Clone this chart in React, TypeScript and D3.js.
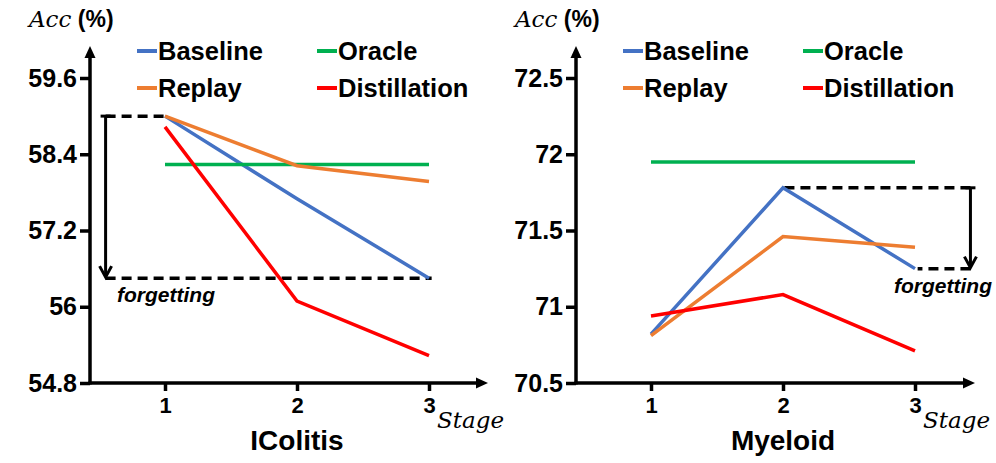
import { useRef, useEffect } from 'react';
import * as d3 from 'd3';

// stages on the x axis
const stages = [1, 2, 3];

// IColitis accuracies (%)
const colitisBaseline = [59.0, 57.7, 56.45];
const colitisOracle = [58.24, 58.24, 58.24];
const colitisReplay = [59.0, 58.22, 57.97];
const colitisDistill = [58.83, 56.09, 55.23];
const colitisTicks = [54.8, 56, 57.2, 58.4, 59.6];

// Myeloid accuracies (%)
const myeloidBaseline = [70.82, 71.78, 71.25];
const myeloidOracle = [71.95, 71.95, 71.95];
const myeloidReplay = [70.81, 71.46, 71.39];
const myeloidDistill = [70.94, 71.08, 70.71];
const myeloidTicks = [70.5, 71, 71.5, 72, 72.5];

const seriesNames = ['Baseline', 'Oracle', 'Replay', 'Distillation'];
const colors = { Baseline: '#4472C4', Oracle: '#00B050', Replay: '#ED7D31', Distillation: '#FF0000' };

const SANS = 'Liberation Sans, Arial, sans-serif';
const SERIF = 'DejaVu Serif, Liberation Serif, serif';

function drawPanel(g, opt) {
  const { x0, axisTop, axisRight, y0, yTicks, series, title, forget } = opt;
  const x = d3.scaleLinear().domain([1, 3]).range([x0 + 75, x0 + 339]);
  const y = d3.scaleLinear().domain([yTicks[0], yTicks[yTicks.length - 1]]).range([y0, 78]);

  // axes lines + arrows
  g.append('line').attr('x1', x0).attr('x2', x0).attr('y1', y0 + 1.5).attr('y2', axisTop + 8)
    .attr('stroke', '#000').attr('stroke-width', 3.5);
  g.append('path').attr('d', `M${x0},${axisTop} L${x0 - 5.5},${axisTop + 12} L${x0 + 5.5},${axisTop + 12} Z`).attr('fill', '#000');
  g.append('line').attr('x1', x0 - 1.5).attr('x2', axisRight - 8).attr('y1', y0).attr('y2', y0)
    .attr('stroke', '#000').attr('stroke-width', 3.5);
  g.append('path').attr('d', `M${axisRight},${y0} L${axisRight - 12},${y0 - 5.5} L${axisRight - 12},${y0 + 5.5} Z`).attr('fill', '#000');

  // y ticks
  const ya = g.append('g').attr('transform', `translate(${x0},0)`)
    .call(d3.axisLeft(y).tickValues(yTicks).tickSize(10).tickPadding(3).tickFormat(d => String(d)));
  ya.select('.domain').remove();
  ya.selectAll('line').attr('stroke', '#000').attr('stroke-width', 3.5);
  ya.selectAll('text').attr('font-family', SANS).attr('font-weight', 'bold').attr('font-size', 25).attr('fill', '#000');

  // x ticks
  const xa = g.append('g').attr('transform', `translate(0,${y0})`)
    .call(d3.axisBottom(x).tickValues(stages).tickSize(8).tickPadding(6).tickFormat(d3.format('d')));
  xa.select('.domain').remove();
  xa.selectAll('line').attr('stroke', '#000').attr('stroke-width', 3.5);
  xa.selectAll('text').attr('font-family', SANS).attr('font-weight', 'bold').attr('font-size', 22).attr('fill', '#000');

  // Acc (%) label
  const acc = g.append('text').attr('x', x0 - 61).attr('y', 27).attr('font-size', 23);
  acc.append('tspan').attr('font-family', SERIF).attr('font-style', 'italic').text('Acc');
  acc.append('tspan').attr('font-family', SANS).attr('font-weight', 'bold').text(' (%)');

  // Stage label
  g.append('text').attr('x', x(3) + 8).attr('y', 428).attr('font-family', SERIF).attr('font-style', 'italic')
    .attr('font-size', 23).text('Stage');

  // title
  g.append('text').attr('x', x(2)).attr('y', 450).attr('text-anchor', 'middle').attr('font-family', SANS)
    .attr('font-weight', 'bold').attr('font-size', 28).text(title);

  // forgetting annotation
  const fx = x(forget.at);
  const ytop = y(forget.top), ybot = y(forget.bottom);
  const hl = (xa1, xa2, yy) => {
    g.append('line').attr('x1', xa1).attr('x2', xa2).attr('y1', yy).attr('y2', yy)
      .attr('stroke', '#000').attr('stroke-width', 3.5).attr('stroke-dasharray', '10,6');
  };
  hl(fx, x(forget.topFrom), ytop);
  hl(fx, x(forget.bottomFrom), ybot);
  g.append('line').attr('x1', fx).attr('x2', fx).attr('y1', ytop).attr('y2', ybot - 1)
    .attr('stroke', '#000').attr('stroke-width', 3);
  g.append('line').attr('x1', fx - 5).attr('x2', fx + 5).attr('y1', ytop).attr('y2', ytop)
    .attr('stroke', '#000').attr('stroke-width', 3);
  g.append('path').attr('d', `M${fx - 6},${ybot - 12} L${fx},${ybot - 1} L${fx + 6},${ybot - 12}`)
    .attr('fill', 'none').attr('stroke', '#000').attr('stroke-width', 3);
  g.append('text').attr('x', forget.textX).attr('y', ybot + 24).attr('text-anchor', forget.anchor)
    .attr('font-family', SANS).attr('font-weight', 'bold').attr('font-style', 'italic').attr('font-size', 21)
    .text('forgetting');

  // data lines
  const line = d3.line().x((d, i) => x(stages[i])).y(d => y(d));
  ['Baseline', 'Oracle', 'Replay', 'Distillation'].forEach(name => {
    g.append('path').attr('d', line(series[name])).attr('fill', 'none')
      .attr('stroke', colors[name]).attr('stroke-width', 3.5);
  });

  // legend
  seriesNames.forEach((name, i) => {
    const lx = x0 + 47 + (i % 2) * 180;
    const ly = 51 + Math.floor(i / 2) * 37;
    g.append('line').attr('x1', lx).attr('x2', lx + 20).attr('y1', ly).attr('y2', ly)
      .attr('stroke', colors[name]).attr('stroke-width', 4);
    g.append('text').attr('x', lx + 21).attr('y', ly).attr('dy', '0.36em').attr('font-family', SANS)
      .attr('font-weight', 'bold').attr('font-size', 25.5).text(name);
  });
}

export default function App() {
  const svgRef = useRef(null);

  useEffect(() => {
    const svg = d3.select(svgRef.current);
    svg.selectAll('*').remove();

    drawPanel(svg.append('g'), {
      x0: 90, axisTop: 46, axisRight: 488, y0: 383, yTicks: colitisTicks, title: 'IColitis',
      series: { Baseline: colitisBaseline, Oracle: colitisOracle, Replay: colitisReplay, Distillation: colitisDistill },
      forget: { at: 0.55, top: colitisBaseline[0], bottom: colitisBaseline[2], topFrom: 1, bottomFrom: 3.02, textX: 117, anchor: 'start' },
    });
    drawPanel(svg.append('g'), {
      x0: 576, axisTop: 46, axisRight: 975, y0: 383, yTicks: myeloidTicks, title: 'Myeloid',
      series: { Baseline: myeloidBaseline, Oracle: myeloidOracle, Replay: myeloidReplay, Distillation: myeloidDistill },
      forget: { at: 3.42, top: myeloidBaseline[1], bottom: myeloidBaseline[2], topFrom: 2, bottomFrom: 3.02, textX: 992, anchor: 'end' },
    });
  }, []);

  return (
    <svg
      ref={svgRef}
      width={996}
      height={463}
      style={{ position: 'absolute', left: 0, top: 0, background: '#fff' }}
    />
  );
}
